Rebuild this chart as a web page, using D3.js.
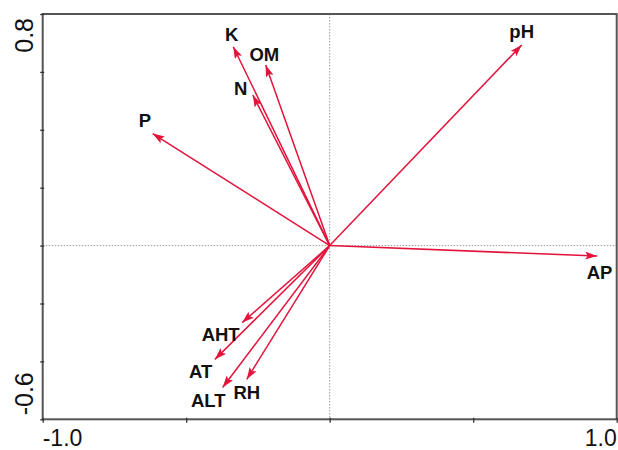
<!DOCTYPE html>
<html>
<head>
<meta charset="utf-8">
<script src="https://cdn.jsdelivr.net/npm/d3@7"></script>
<style>
  html, body { margin: 0; padding: 0; background: #fff; }
  svg { display: block; }
</style>
</head>
<body>
<svg id="chart" width="618" height="450"></svg>
<script>
(function () {
// ---- data ----
const variables = ["pH", "AP", "K", "OM", "N", "P", "AHT", "AT", "ALT", "RH"];
const axis1 = [0.669, 0.932, -0.336, -0.223, -0.268, -0.617, -0.305, -0.400, -0.373, -0.289];
const axis2 = [0.693, -0.036, 0.687, 0.624, 0.520, 0.387, -0.266, -0.393, -0.490, -0.462];
const xTicks = [-1.0, -0.5, 0, 0.5, 1.0];
const yTicks = [-0.6, -0.4, -0.2, 0, 0.2, 0.4, 0.6, 0.8];
const xTickLabels = ["-1.0", "1.0"];
const yTickLabels = ["-0.6", "0.8"];

// ---- layout / style ----
const mLeft = 42.7, mRight = 616.7, mTop = 14, mBottom = 419.3;
const arrowColor = "#e3133b";
const frameColor = "#555";
// label offsets from arrow tip (px): [dx, dy of baseline]
const labelOffset = {
  pH: [0, -6.5], AP: [2.4, 22.6], K: [-1.6, -6], OM: [-1.4, -4.3], N: [-12, 0],
  P: [-7.7, -6.6], AHT: [-21.5, 18.4], AT: [-14.2, 18.3], ALT: [-14.4, 20], RH: [0, 20]
};
const font = "Liberation Sans, Arial, sans-serif";

const svg = d3.select("#chart");
const x = d3.scaleLinear().domain([-1, 1]).range([mLeft, mRight]);
const y = d3.scaleLinear().domain([-0.6, 0.8]).range([mBottom, mTop]);

// dotted origin lines
svg.append("line").attr("x1", mLeft).attr("x2", mRight).attr("y1", y(0)).attr("y2", y(0))
  .attr("stroke", "#9a9a9a").attr("stroke-width", 1).attr("stroke-dasharray", "1.5,1.5");
svg.append("line").attr("x1", x(0)).attr("x2", x(0)).attr("y1", mTop).attr("y2", mBottom)
  .attr("stroke", "#9a9a9a").attr("stroke-width", 1).attr("stroke-dasharray", "1.5,1.5");

// frame
svg.append("rect").attr("x", mLeft).attr("y", mTop).attr("width", mRight - mLeft).attr("height", mBottom - mTop)
  .attr("fill", "none").attr("stroke", frameColor).attr("stroke-width", 2);

// axes ticks
const xAxis = d3.axisBottom(x).tickValues(xTicks).tickSizeInner(5).tickSizeOuter(0).tickFormat("");
const gx = svg.append("g").attr("transform", `translate(0,${mBottom - 1.5})`).call(xAxis);
const yAxis = d3.axisLeft(y).tickValues(yTicks).tickSizeInner(4).tickSizeOuter(0).tickFormat("");
const gy = svg.append("g").attr("transform", `translate(${mLeft + 1.5},0)`).call(yAxis);
[gx, gy].forEach(g => {
  g.select(".domain").remove();
  g.selectAll(".tick line").attr("stroke", "#333").attr("stroke-width", 1.3);
});

// axis end labels
svg.append("text").attr("x", x(-1)).attr("y", 445.5).attr("text-anchor", "start")
  .attr("font-family", font).attr("font-size", 23).attr("fill", "#111")
  .text(xTickLabels[0]);
svg.append("text").attr("x", x(1)).attr("y", 445.5).attr("text-anchor", "end")
  .attr("font-family", font).attr("font-size", 23).attr("fill", "#111")
  .text(xTickLabels[1]);
svg.append("text").attr("transform", `translate(33,${y(-0.6) - 4}) rotate(-90)`).attr("text-anchor", "start")
  .attr("font-family", font).attr("font-size", 25).attr("fill", "#111")
  .text(yTickLabels[0]);
svg.append("text").attr("transform", `translate(33,${y(0.8) + 4}) rotate(-90)`).attr("text-anchor", "end")
  .attr("font-family", font).attr("font-size", 25).attr("fill", "#111")
  .text(yTickLabels[1]);

// arrowhead marker
svg.append("defs").append("marker")
  .attr("id", "ah").attr("viewBox", "0 0 12 8").attr("refX", 12).attr("refY", 4)
  .attr("markerWidth", 12).attr("markerHeight", 8).attr("markerUnits", "userSpaceOnUse")
  .attr("orient", "auto")
  .append("path").attr("d", "M0,0 L12,4 L0,8 L2.5,4 Z").attr("fill", arrowColor);

const data = variables.map((v, i) => ({ name: v, a1: axis1[i], a2: axis2[i] }));

svg.append("g").selectAll("line").data(data).join("line")
  .attr("x1", x(0)).attr("y1", y(0))
  .attr("x2", d => x(d.a1)).attr("y2", d => y(d.a2))
  .attr("stroke", arrowColor).attr("stroke-width", 1.5)
  .attr("marker-end", "url(#ah)");

svg.append("g").selectAll("text").data(data).join("text")
  .attr("x", d => x(d.a1) + labelOffset[d.name][0])
  .attr("y", d => y(d.a2) + labelOffset[d.name][1])
  .attr("text-anchor", "middle")
  .attr("font-family", font)
  .attr("font-weight", "bold").attr("font-size", 18.5).attr("fill", "#111")
  .text(d => d.name);
})();
</script>
</body>
</html>
